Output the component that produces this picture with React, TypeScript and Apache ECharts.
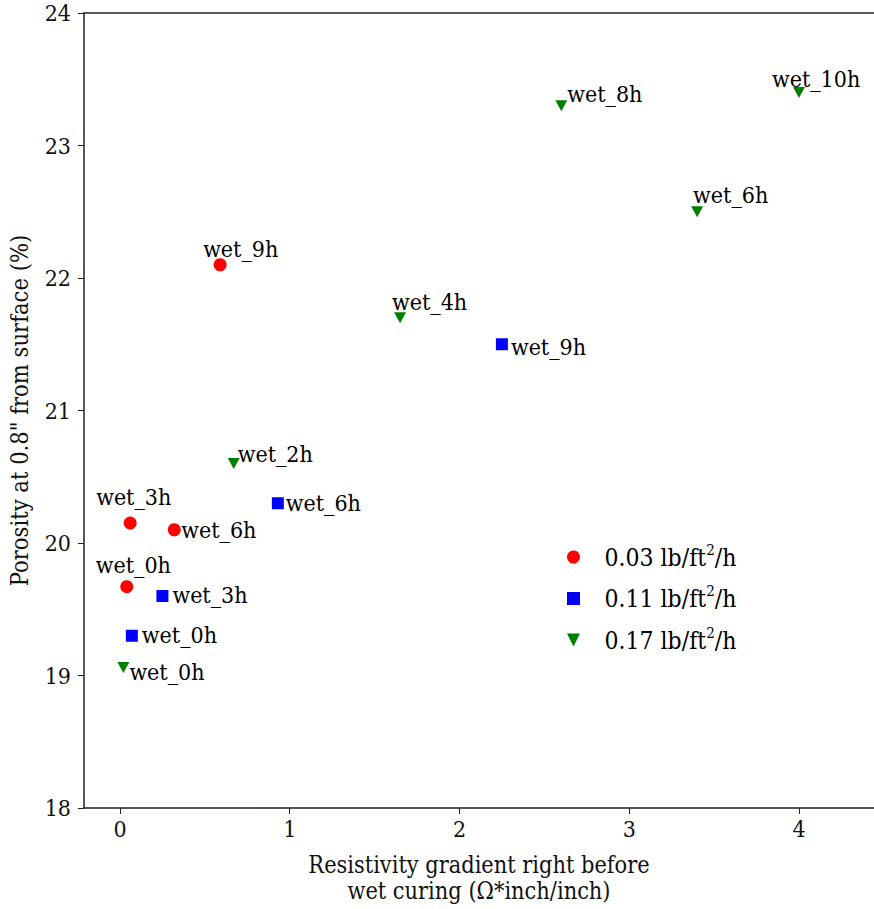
import React, { useEffect, useRef } from "react";
import * as echarts from "echarts";

const FONT = "DejaVu Serif Condensed, DejaVu Serif, serif";

// Series names (legend)
const seriesNames = ["0.03 lb/ft²/h", "0.11 lb/ft²/h", "0.17 lb/ft²/h"];
const seriesColors = ["#ff0000", "#0000ff", "#008000"];

// 0.03 lb/ft2/h
const lowRateX = [0.59, 0.06, 0.32, 0.04];
const lowRateY = [22.1, 20.15, 20.1, 19.67];
const lowRateLabels = ["wet_9h", "wet_3h", "wet_6h", "wet_0h"];

// 0.11 lb/ft2/h
const midRateX = [2.25, 0.93, 0.25, 0.07];
const midRateY = [21.5, 20.3, 19.6, 19.3];
const midRateLabels = ["wet_9h", "wet_6h", "wet_3h", "wet_0h"];

// 0.17 lb/ft2/h
const highRateX = [4.0, 2.6, 3.4, 1.65, 0.67, 0.02];
const highRateY = [23.4, 23.3, 22.5, 21.7, 20.6, 19.06];
const highRateLabels = ["wet_10h", "wet_8h", "wet_6h", "wet_4h", "wet_2h", "wet_0h"];

// annotation text offsets (px) relative to marker
const lowRateLabelOffsets = [[-17, -16], [-34, -26], [7, 0], [-31, -22]];
const midRateLabelOffsets = [[9, 3], [8, 0], [10, -1], [10, -1]];
const highRateLabelOffsets = [[-27, -14], [6, -12], [-4, -17], [-8, -16], [4, -10], [6, 4]];

const xTicks = [0, 1, 2, 3, 4];
const yTicks = [18, 19, 20, 21, 22, 23, 24];

const TRIANGLE_DOWN = "path://M0,0 L10,0 L5,10 Z";
const SQUARE = "path://M0,0 L10,0 L10,10 L0,10 Z";

function buildData(xs: number[], ys: number[], labels: string[], offsets: number[][]) {
  return xs.map((x, i) => ({
    value: [x, ys[i]],
    name: labels[i],
    label: { offset: offsets[i] },
  }));
}

export default function App() {
  const ref = useRef<HTMLDivElement>(null);

  useEffect(() => {
    if (!ref.current) return;
    const chart = echarts.init(ref.current, null, { renderer: "svg" });

    const labelStyle = {
      show: true,
      position: "inside",
      align: "left",
      verticalAlign: "middle",
      formatter: "{b}",
      fontFamily: FONT,
      fontSize: 23,
      color: "#000",
      textBorderWidth: 0,
    };

    const axisLineStyle = { color: "#222", width: 1.5 };

    const option: any = {
      animation: false,
      backgroundColor: "#ffffff",
      textStyle: { fontFamily: FONT },
      grid: {
        left: 84,
        top: 13,
        right: 0,
        bottom: 101,
        containLabel: false,
        outerBoundsMode: "none",
      },
      xAxis: [
        {
          type: "value",
          min: -0.212,
          max: 4.442,
          splitLine: { show: false },
          axisLine: { show: true, onZero: false, lineStyle: axisLineStyle },
          axisTick: {
            show: true,
            customValues: xTicks,
            length: 6,
            inside: false,
            lineStyle: { color: "#222", width: 1 },
          },
          axisLabel: {
            customValues: xTicks,
            margin: 9,
            fontFamily: FONT,
            fontSize: 23,
            color: "#111",
            formatter: (v: number) => String(Math.round(v)),
          },
          name: "Resistivity gradient right before\nwet curing (Ω*inch/inch)",
          nameLocation: "middle",
          nameGap: 43,
          nameTextStyle: {
            fontFamily: FONT,
            fontSize: 23.3,
            color: "#111",
            lineHeight: 26,
          },
        },
        {
          type: "value",
          position: "top",
          min: -0.212,
          max: 4.442,
          splitLine: { show: false },
          axisLine: { show: true, onZero: false, lineStyle: axisLineStyle },
          axisTick: { show: false },
          axisLabel: { show: false },
        },
      ],
      yAxis: {
        type: "value",
        min: 18,
        max: 24,
        interval: 1,
        splitLine: { show: false },
        axisLine: { show: true, onZero: false, lineStyle: axisLineStyle },
        axisTick: { show: true, length: 6, lineStyle: { color: "#222", width: 1 } },
        axisLabel: {
          margin: 13,
          fontFamily: FONT,
          fontSize: 23,
          color: "#111",
          formatter: (v: number) => (yTicks.includes(v) ? String(v) : ""),
        },
        name: 'Porosity at 0.8" from surface (%)',
        nameLocation: "middle",
        nameGap: 52.5,
        nameTextStyle: { fontFamily: FONT, fontSize: 23.5, color: "#111", lineHeight: 23.5 },
      },
      legend: {
        orient: "vertical",
        left: 562,
        top: 537,
        itemWidth: 52,
        itemHeight: 13,
        itemGap: 11.5,
        selectedMode: false,
        data: [
          { name: seriesNames[0], icon: "circle" },
          { name: seriesNames[1], icon: SQUARE },
          { name: seriesNames[2], icon: TRIANGLE_DOWN },
        ],
        formatter: (name: string) => {
          const parts = name.split("²");
          return `{a|${parts[0]}}{s|2}{a|${parts[1]}}`;
        },
        textStyle: {
          fontFamily: FONT,
          fontSize: 24.5,
          color: "#000",
          lineHeight: 30,
          rich: {
            a: { fontFamily: FONT, fontSize: 24.5, color: "#000", lineHeight: 30 },
            s: {
              fontFamily: FONT,
              fontSize: 15,
              color: "#000",
              lineHeight: 22,
              verticalAlign: "top",
            },
          },
        },
      },
      series: [
        {
          name: seriesNames[0],
          type: "scatter",
          symbol: "circle",
          symbolSize: 13,
          itemStyle: { color: seriesColors[0], opacity: 1 },
          label: labelStyle,
          emphasis: { disabled: true },
          data: buildData(lowRateX, lowRateY, lowRateLabels, lowRateLabelOffsets),
        },
        {
          name: seriesNames[1],
          type: "scatter",
          symbol: "rect",
          symbolSize: 12,
          itemStyle: { color: seriesColors[1], opacity: 1 },
          label: labelStyle,
          emphasis: { disabled: true },
          data: buildData(midRateX, midRateY, midRateLabels, midRateLabelOffsets),
        },
        {
          name: seriesNames[2],
          type: "scatter",
          symbol: TRIANGLE_DOWN,
          symbolSize: [12, 11],
          symbolKeepAspect: false,
          itemStyle: { color: seriesColors[2], opacity: 1 },
          label: labelStyle,
          emphasis: { disabled: true },
          data: buildData(highRateX, highRateY, highRateLabels, highRateLabelOffsets),
        },
      ],
    };

    chart.setOption(option);
    return () => chart.dispose();
  }, []);

  return (
    <div
      ref={ref}
      style={{ position: "absolute", left: 0, top: 0, width: 874, height: 909 }}
    />
  );
}
